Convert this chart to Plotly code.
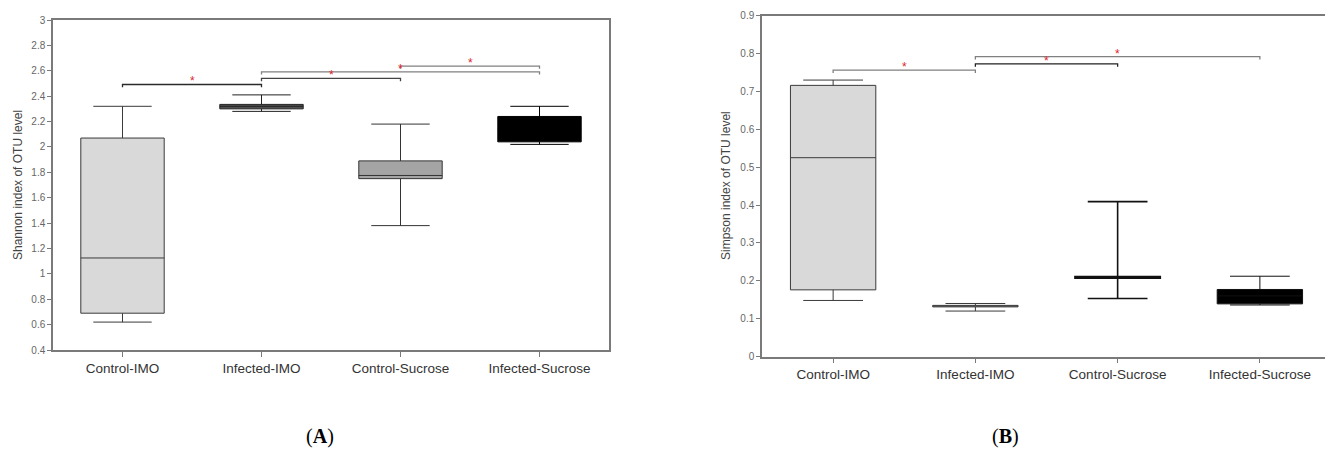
import plotly.graph_objects as go

# ---------------- data ----------------
groups = ["Control-IMO", "Infected-IMO", "Control-Sucrose", "Infected-Sucrose"]

# Panel A: Shannon index
shannon_low = [0.62, 2.28, 1.38, 2.02]
shannon_q1 = [0.69, 2.30, 1.75, 2.04]
shannon_med = [1.125, 2.32, 1.775, 2.14]
shannon_q3 = [2.07, 2.335, 1.89, 2.24]
shannon_high = [2.32, 2.41, 2.18, 2.32]

# Panel B: Simpson index
simpson_low = [0.148, 0.120, 0.153, 0.136]
simpson_q1 = [0.176, 0.131, 0.207, 0.139]
simpson_med = [0.525, 0.133, 0.209, 0.160]
simpson_q3 = [0.716, 0.135, 0.211, 0.177]
simpson_high = [0.730, 0.140, 0.409, 0.212]

# significance brackets: (group from, group to, height)
shannon_brackets = [
    ("Control-IMO", "Infected-IMO", 2.492),
    ("Infected-IMO", "Control-Sucrose", 2.540),
    ("Infected-IMO", "Infected-Sucrose", 2.592),
    ("Control-Sucrose", "Infected-Sucrose", 2.637),
]
simpson_brackets = [
    ("Control-IMO", "Infected-IMO", 0.7565),
    ("Infected-IMO", "Control-Sucrose", 0.773),
    ("Infected-IMO", "Infected-Sucrose", 0.792),
]

# ---------------- styles ----------------
fills_a = ["#d9d9d9", "#505050", "#a4a4a4", "#000000"]
fills_b = ["#d9d9d9", "#d9d9d9", "#000000", "#000000"]
lines_a = ["#3a3a3a", "#222222", "#333333", "#000000"]
lines_b = ["#3a3a3a", "#3a3a3a", "#111111", "#111111"]
linew_b = [1, 1, 1.6, 1]
brk_col_a = ["#2a2a2a", "#444444", "#808080", "#808080"]
brk_col_b = ["#808080", "#222222", "#808080"]

FONT = "Liberation Sans, Arial, sans-serif"
OFF = 8                      # default page body margin
W, H = 1333 - OFF, 450 - OFF


def px(x):
    return (x - OFF) / W


def py(y):
    return 1 - (y - OFF) / H


fig = go.Figure()

for i, g in enumerate(groups):
    fig.add_trace(go.Box(
        x=[g], q1=[shannon_q1[i]], median=[shannon_med[i]], q3=[shannon_q3[i]],
        lowerfence=[shannon_low[i]], upperfence=[shannon_high[i]],
        orientation="v", fillcolor=fills_a[i],
        line=dict(color=lines_a[i], width=1), width=0.6, whiskerwidth=0.7,
        boxpoints=False, showlegend=False, hoverinfo="skip",
        xaxis="x", yaxis="y"))
    fig.add_trace(go.Box(
        x=[g], q1=[simpson_q1[i]], median=[simpson_med[i]], q3=[simpson_q3[i]],
        lowerfence=[simpson_low[i]], upperfence=[simpson_high[i]],
        orientation="v", fillcolor=fills_b[i],
        line=dict(color=lines_b[i], width=linew_b[i]), width=0.6, whiskerwidth=0.7,
        boxpoints=False, showlegend=False, hoverinfo="skip",
        xaxis="x2", yaxis="y2"))


def add_brackets(brackets, colors, xref, yref, drop):
    for (a, b, h), c in zip(brackets, colors):
        ia, ib = groups.index(a), groups.index(b)
        fig.add_trace(go.Scatter(
            x=[a, a, b, b], y=[h - drop, h, h, h - drop], mode="lines",
            line=dict(color=c, width=1.3), showlegend=False, hoverinfo="skip",
            xaxis=xref, yaxis=yref))
        fig.add_annotation(
            x=(ia + ib) / 2, y=h, xref=xref, yref=yref, text="*",
            showarrow=False, yanchor="bottom", yshift=-6,
            font=dict(family=FONT, size=12, color="#e0242b"))


add_brackets(shannon_brackets, brk_col_a, "x", "y", 0.022)
add_brackets(simpson_brackets, brk_col_b, "x2", "y2", 0.0075)

axis_line = dict(showline=True, linecolor="#7a7a7a", linewidth=1.5, mirror=True,
                 showgrid=False, zeroline=False, automargin=False)
xcommon = dict(type="category", categoryorder="array", categoryarray=groups,
               range=[-0.5, 3.5], ticks="outside", ticklen=5, tickcolor="#7a7a7a",
               tickfont=dict(family=FONT, size=13.5, color="#333333"), **axis_line)
ycommon = dict(ticks="outside", ticklen=4, tickcolor="#7a7a7a",
               tickfont=dict(family=FONT, size=10, color="#666666"), **axis_line)

fig.update_layout(
    template="none",
    width=W, height=H, margin=dict(l=0, r=0, t=0, b=0, autoexpand=False),
    paper_bgcolor="white", plot_bgcolor="white", boxmode="overlay",
    xaxis=dict(domain=[px(53), px(609)], anchor="y", **xcommon),
    yaxis=dict(domain=[py(350), py(20)], anchor="x", range=[0.4, 3],
               tick0=0.4, dtick=0.2, **ycommon),
    xaxis2=dict(domain=[px(762), px(1331)], anchor="y2", **xcommon),
    yaxis2=dict(domain=[py(356.5), py(15.7)], anchor="x2", range=[0, 0.9],
                tick0=0, dtick=0.1, **ycommon),
)

fig.add_annotation(x=px(18), y=py(185), xref="paper", yref="paper",
                   text="Shannon index of OTU level", textangle=-90, showarrow=False,
                   xanchor="center", yanchor="middle",
                   font=dict(family=FONT, size=12, color="#444444"))
fig.add_annotation(x=px(726), y=py(186), xref="paper", yref="paper",
                   text="Simpson index of OTU level", textangle=-90, showarrow=False,
                   xanchor="center", yanchor="middle",
                   font=dict(family=FONT, size=12, color="#444444"))

for lbl, xc in (("A", 320), ("B", 1005)):
    fig.add_annotation(x=px(xc), y=py(436), xref="paper", yref="paper",
                       text="(<b>%s</b>)" % lbl, showarrow=False,
                       xanchor="center", yanchor="middle",
                       font=dict(family="Liberation Serif, Times New Roman, serif",
                                 size=20, color="#000000"))

fig.write_html("out.html")
